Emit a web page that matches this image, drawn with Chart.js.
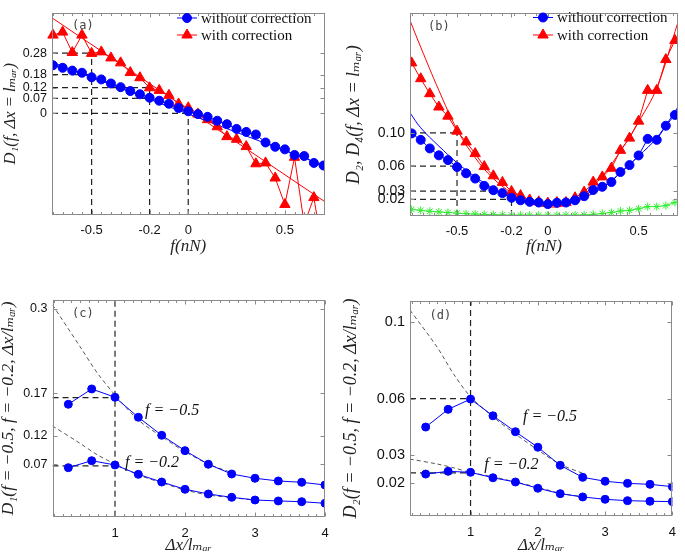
<!DOCTYPE html>
<html>
<head>
<meta charset="utf-8">
<script src="https://cdn.jsdelivr.net/npm/chart.js@4.4.1/dist/chart.umd.min.js"></script>
<style>
html,body{margin:0;padding:0;background:#ffffff;}
#wrap{position:relative;width:685px;height:557px;overflow:hidden;background:#fff;}
canvas{position:absolute;display:block;}
</style>
</head>
<body>
<div id="wrap">
<canvas id="ca" width="342" height="262" style="left:0px;top:0px;width:342px;height:262px"></canvas>
<canvas id="cb" width="343" height="262" style="left:342px;top:0px;width:343px;height:262px"></canvas>
<canvas id="cc" width="342" height="277" style="left:0px;top:280px;width:342px;height:277px"></canvas>
<canvas id="cd" width="343" height="277" style="left:342px;top:280px;width:343px;height:277px"></canvas>
</div>
<script>
// ---------------- DATA ----------------
// Panel (a): D1(f, dx = l_mar)
const fA = [-0.7,-0.65,-0.6,-0.55,-0.5,-0.45,-0.4,-0.35,-0.3,-0.25,-0.2,-0.15,-0.1,-0.05,0,0.05,0.1,0.15,0.2,0.25,0.3,0.35,0.4,0.45,0.5,0.55,0.6,0.65,0.7];
const blueA = [0.224,0.212,0.199,0.189,0.168,0.158,0.139,0.122,0.104,0.089,0.073,0.059,0.045,0.025,0.010,-0.003,-0.016,-0.034,-0.050,-0.072,-0.086,-0.098,-0.135,-0.155,-0.167,-0.193,-0.198,-0.230,-0.242];
const redA = [0.364,0.378,0.283,0.364,0.279,0.286,0.258,0.235,0.190,0.166,0.119,0.107,0.084,0.044,0.026,-0.003,-0.029,-0.062,-0.108,-0.120,-0.154,-0.234,-0.230,-0.300,-0.423,-0.204,-0.515,-0.391,-0.66];
const fitFA = [-0.705, 0.705];
const blueFitA = [0.238, -0.243];
const redFitA = [0.444, -0.409];
const yTicksA = [0, 0.07, 0.12, 0.18, 0.28];
const yLabelsA = ['0', '0.07', '0.12', '0.18', '0.28'];
const xTicksAB = [-0.5, -0.2, 0, 0.5];
const xLabelsAB = ['-0.5', '-0.2', '0', '0.5'];
const guideLevelsA = [0.28, 0.18, 0.12, 0.07, 0];
const guideEndsA = [-0.5, -0.5, -0.2, -0.2, 0];
const guideVertA = [-0.5, -0.2, 0];
const guideVertTopA = [0.28, 0.14, 0];

// Panel (b): D2, D4(f, dx = l_mar)
const fB = [-0.75,-0.7,-0.65,-0.6,-0.55,-0.5,-0.45,-0.4,-0.35,-0.3,-0.25,-0.2,-0.15,-0.1,-0.05,0,0.05,0.1,0.15,0.2,0.25,0.3,0.35,0.4,0.45,0.5,0.55,0.6,0.65,0.7];
const blueB = [0.0993,0.0915,0.0812,0.0729,0.0672,0.0589,0.0513,0.0450,0.0362,0.0310,0.0275,0.0219,0.0189,0.0170,0.0162,0.0143,0.0159,0.0162,0.0189,0.0238,0.0313,0.0351,0.0408,0.0529,0.0612,0.0728,0.0927,0.0915,0.1085,0.1215];
const redB = [0.184,0.165,0.147,0.131,0.120,0.102,0.089,0.0750,0.0594,0.0483,0.0404,0.0294,0.0245,0.0193,0.0170,0.0155,0.0162,0.0162,0.0219,0.0287,0.0408,0.0470,0.0574,0.0789,0.0936,0.114,0.151,0.151,0.188,0.211];
const greenB = [0.0079,0.0068,0.0057,0.0049,0.0042,0.0035,0.0028,0.0023,0.0019,0.0016,0.0013,0.0011,0.0011,0.0010,0.0010,0.0010,0.0010,0.0010,0.0011,0.0013,0.0020,0.0030,0.0042,0.0060,0.0068,0.0087,0.0113,0.0113,0.0125,0.0162];
const fitFB = [-0.759,-0.7,-0.6,-0.5,-0.4,-0.3,-0.2,-0.1,0,0.1,0.2,0.3,0.4,0.5,0.6,0.717];
const blueFitB = [0.124,0.106,0.084,0.064,0.047,0.033,0.022,0.015,0.013,0.015,0.022,0.034,0.052,0.072,0.094,0.131];
const redFitB = [0.235,0.203,0.151,0.104,0.070,0.045,0.028,0.016,0.011,0.013,0.026,0.048,0.078,0.113,0.154,0.233];
const yTicksB = [0.02, 0.03, 0.06, 0.10];
const yLabelsB = ['0.02', '0.03', '0.06', '0.10'];
const guideLevelsB = [0.10, 0.06, 0.03, 0.02];
const guideEndsB = [-0.5, -0.5, -0.2, -0.2];
const guideVertB = [-0.5, -0.2];
const guideVertTopB = [0.10, 0.03];

// Panel (c): D1 vs dx/l_mar
const dx = [0.333,0.667,1,1.333,1.667,2,2.333,2.667,3,3.333,3.667,4];
const c05 = [0.1624,0.1845,0.1725,0.1436,0.1176,0.0954,0.0757,0.0617,0.0555,0.0516,0.0497,0.0458];
const c02 = [0.0708,0.0809,0.0747,0.0612,0.0501,0.0396,0.0328,0.0280,0.0241,0.0227,0.0217,0.0194];
const fitDxC05 = [0.107,0.5,0.75,1,1.333,1.667,2,2.333,2.667];
const c05Fit = [0.306,0.2457,0.2072,0.1759,0.1397,0.1156,0.0939,0.0762,0.0636];
const fitDxC02 = [0.107,0.5,0.75,1,1.333,1.667,2,2.333,2.667,3];
const c02Fit = [0.131,0.106,0.0892,0.0762,0.0603,0.0491,0.0386,0.0314,0.0275,0.0241];
const yTicksC = [0.0757, 0.117, 0.178, 0.3];
const yLabelsC = ['0.07', '0.12', '0.17', '0.3'];
const guideLevelsC = [0.172, 0.0733];

// Panel (d): D2 vs dx/l_mar
const d05 = [0.0458,0.0549,0.0602,0.0516,0.0434,0.0354,0.0261,0.0199,0.0179,0.0168,0.0163,0.0151];
const d02 = [0.0216,0.0230,0.0225,0.0197,0.0175,0.0143,0.0115,0.0098,0.0086,0.0079,0.0076,0.0074];
const fitDxD = [0.1,0.5,0.75,1,1.333,1.667,2,2.333,2.667];
const d05Fit = [0.106,0.0871,0.073,0.0614,0.0511,0.0422,0.034,0.0266,0.022];
const d02Fit = [0.0293,0.0268,0.0248,0.0224,0.0202,0.0175,0.0148,0.0117,0.0099];
const yTicksD = [0.0172, 0.0315, 0.0604, 0.1];
const yLabelsD = ['0.02', '0.03', '0.06', '0.1'];
const guideLevelsD = [0.0604, 0.0222];

const xTicksCD = [1, 2, 3, 4];
const xLabelsCD = ['1', '2', '3', '4'];

// ---------------- STYLE / HELPERS ----------------
const TF = "'Liberation Sans', Arial, sans-serif";
const SF = "'Liberation Serif', 'DejaVu Serif', serif";
const BLUE = '#0000ff', RED = '#ff0000', GREEN = '#33ee33';

function pts(xs, ys) { return xs.map((x, i) => ({ x: x, y: ys[i] })); }

function markerSet(xs, ys, color, style, r, clip) {
  const d = { data: pts(xs, ys), showLine: true, borderColor: color, backgroundColor: color,
    borderWidth: 1, pointStyle: style, pointRadius: r, pointBorderWidth: 1,
    pointBackgroundColor: color, pointBorderColor: color, tension: 0 };
  if (clip !== undefined) d.clip = clip;
  return d;
}
function lineSet(xs, ys, color, w, dash, tension, clip) {
  return { data: pts(xs, ys), showLine: true, borderColor: color, borderWidth: w,
    borderDash: dash || [], pointRadius: 0, tension: tension || 0, clip: clip === undefined ? 0 : clip };
}
function guides(levels, ends, x0, verts, vtops, y0) {
  const out = [];
  levels.forEach((v, i) => out.push(lineSet([x0, ends[i]], [v, v], '#222', 1.2, [6, 4])));
  (verts || []).forEach((v, i) => out.push(lineSet([v, v], [y0, vtops[i]], '#222', 1.2, [6, 4])));
  return out;
}

function xScale(min, max, vals, labels, h, tp, title, pb) {
  return { type: 'linear', position: 'bottom', min: min, max: max,
    afterBuildTicks: s => { s.ticks = vals.map(v => ({ value: v })); },
    afterFit: s => { s.height = h; },
    grid: { display: false, drawTicks: false }, border: { display: false },
    ticks: { autoSkip: false, maxRotation: 0, padding: tp, color: '#111',
      font: { family: TF, size: 13 }, callback: (v, i) => labels[i] },
    title: { display: true, text: title, color: '#222',
      font: { family: SF, size: 17, style: 'italic' }, padding: { top: 0, bottom: pb } } };
}
function yScale(min, max, vals, labels, w, title, tpad, tsize, fsize) {
  return { type: 'linear', position: 'left', min: min, max: max,
    afterBuildTicks: s => { s.ticks = vals.map(v => ({ value: v })); },
    afterFit: s => { s.width = w; },
    grid: { display: false, drawTicks: false }, border: { display: false },
    ticks: { autoSkip: false, padding: 5, color: '#111',
      font: { family: TF, size: fsize }, callback: (v, i) => labels[i] },
    title: { display: true, text: title, color: '#222',
      font: { family: SF, size: tsize, style: 'italic' }, padding: { top: tpad, bottom: 0 } } };
}

function framePlugin(fr) {
  return { id: 'frame', afterDatasetsDraw(chart) {
    const { ctx, chartArea: a, scales } = chart;
    const x = scales.x, y = scales.y;
    ctx.save();
    ctx.strokeStyle = '#8a8a8a'; ctx.lineWidth = 1;
    ctx.beginPath();
    const l = Math.round(a.left) + 0.5, r = Math.round(a.right) - 0.5, t = Math.round(a.top) + 0.5, b = Math.round(a.bottom) - 0.5;
    fr.xMajor.forEach(v => { const p = Math.round(x.getPixelForValue(v)) + 0.5; ctx.moveTo(p, b); ctx.lineTo(p, b - 4); ctx.moveTo(p, t); ctx.lineTo(p, t + 4); });
    fr.xMinor.forEach(v => { const p = Math.round(x.getPixelForValue(v)) + 0.5; if (p < l + 1 || p > r - 1) return; ctx.moveTo(p, b); ctx.lineTo(p, b - 2.5); ctx.moveTo(p, t); ctx.lineTo(p, t + 2.5); });
    fr.yMajor.forEach(v => { const p = Math.round(y.getPixelForValue(v)) + 0.5; ctx.moveTo(l, p); ctx.lineTo(l + 4, p); ctx.moveTo(r, p); ctx.lineTo(r - 4, p); });
    ctx.stroke();
    ctx.strokeRect(l, t, r - l, b - t);
    ctx.restore();
  } };
}
function legendPlugin(lg) {
  return { id: 'ilegend', afterDraw(chart) {
    if (!lg) return;
    const ctx = chart.ctx;
    ctx.save();
    lg.items.forEach((it, i) => {
      const yy = lg.rows[i];
      ctx.strokeStyle = it.color; ctx.lineWidth = 1;
      ctx.beginPath(); ctx.moveTo(lg.x, yy); ctx.lineTo(lg.x + 20, yy); ctx.stroke();
      ctx.fillStyle = it.color;
      Chart.helpers.drawPoint(ctx, { pointStyle: it.style, radius: it.r, rotation: 0, borderWidth: 1 }, lg.x + 10, yy);
      ctx.fillStyle = '#111';
      ctx.font = "15px " + SF;
      ctx.textBaseline = 'middle'; ctx.textAlign = 'left';
      ctx.fillText(it.label, lg.x + 24, yy + 1);
    });
    ctx.restore();
  } };
}
function notesPlugin(notes) {
  return { id: 'notes', afterDraw(chart) {
    const { ctx, chartArea: a, scales } = chart;
    ctx.save();
    notes.forEach(n => {
      let px, py;
      if (n.data) { px = scales.x.getPixelForValue(n.x); py = scales.y.getPixelForValue(n.y); }
      else { px = a.left + n.dx; py = a.top + n.dy; }
      ctx.font = n.font; ctx.fillStyle = n.color || '#111';
      ctx.textBaseline = 'middle'; ctx.textAlign = 'left';
      ctx.fillText(n.text, px, py);
    });
    ctx.restore();
  } };
}

function build(id, o) {
  return new Chart(document.getElementById(id), {
    type: 'scatter',
    data: { datasets: o.datasets },
    options: {
      responsive: false, animation: false, devicePixelRatio: 1, events: [],
      layout: { padding: o.pad },
      plugins: { legend: { display: false }, tooltip: { enabled: false } },
      scales: { x: o.x, y: o.y }
    },
    plugins: [framePlugin(o.frame), legendPlugin(o.legend), notesPlugin(o.notes || [])]
  });
}
function steps(a, b, s) { const r = []; for (let v = a; v <= b + 1e-9; v += s) r.push(+v.toFixed(4)); return r; }

const subMar = 'l\u2098\u2090\u1D63';
const legendItems = [
  { label: 'without correction', color: BLUE, style: 'circle', r: 4.5 },
  { label: 'with correction', color: RED, style: 'triangle', r: 6 }
];

// ---------------- PANEL (a) ----------------
build('ca', {
  pad: { left: 0, right: 17.5, top: 1, bottom: 0 },
  x: xScale(-0.705, 0.705, xTicksAB, xLabelsAB, 47, 8, 'f(nN)', 5),
  y: yScale(-0.472, 0.469, yTicksA, yLabelsA, 52, 'D\u2081(f, \u0394x = ' + subMar + ')', 1, 16.5, 12.5),
  datasets: [
    markerSet(fA, blueA, BLUE, 'circle', 4.5),
    markerSet(fA, redA, RED, 'triangle', 6, { left: 10, right: 10, top: 10, bottom: 0 }),
    lineSet(fitFA, blueFitA, BLUE, 1),
    lineSet(fitFA, redFitA, RED, 1),
    ...guides(guideLevelsA, guideEndsA, -0.705, guideVertA, guideVertTopA, -0.472)
  ],
  frame: { xMajor: xTicksAB, xMinor: steps(-0.7, 0.7, 0.05), yMajor: yTicksA },
  legend: { x: 177, rows: [18, 35], items: legendItems },
  notes: [{ dx: 20, dy: 13, text: '(a)', font: "12px 'DejaVu Sans Mono', monospace", color: '#444' }]
});

// ---------------- PANEL (b) ----------------
build('cb', {
  pad: { left: 0, right: 3.3, top: 1, bottom: 0 },
  x: xScale(-0.759, 0.717, xTicksAB, xLabelsAB, 46, 8, 'f(nN)', 5),
  y: yScale(0, 0.2435, yTicksB, yLabelsB, 68, 'D\u2082, D\u2084(f, \u0394x = ' + subMar + ')', 1, 18, 14),
  datasets: [
    markerSet(fB, blueB, BLUE, 'circle', 4.5),
    markerSet(fB, redB, RED, 'triangle', 6),
    markerSet(fB, greenB, GREEN, 'star', 4),
    lineSet(fitFB, blueFitB, BLUE, 1, [], 0.4),
    lineSet(fitFB, redFitB, RED, 1, [], 0.4),
    ...guides(guideLevelsB, guideEndsB, -0.759, guideVertB, guideVertTopB, 0)
  ],
  frame: { xMajor: xTicksAB, xMinor: steps(-0.75, 0.7, 0.0625), yMajor: yTicksB },
  legend: { x: 191, rows: [17.5, 35], items: legendItems },
  notes: [{ dx: 18, dy: 13, text: '(b)', font: "12px 'DejaVu Sans Mono', monospace", color: '#444' }]
});

// ---------------- PANEL (c) ----------------
build('cc', {
  pad: { left: 0, right: 17, top: 20, bottom: 0 },
  x: xScale(0.107, 4, xTicksCD, xLabelsCD, 40.3, 9, '\u0394x/' + subMar, 1),
  y: yScale(0, 0.313, yTicksC, yLabelsC, 52.5, 'D\u2081(f = \u22120.5, f = \u22120.2, \u0394x/' + subMar + ')', -2, 17.5, 12.5),
  datasets: [
    markerSet(dx, c05, BLUE, 'circle', 4),
    markerSet(dx, c02, BLUE, 'circle', 4),
    lineSet(fitDxC05, c05Fit, '#444', 0.9, [4, 3], 0.3),
    lineSet(fitDxC02, c02Fit, '#444', 0.9, [4, 3], 0.3),
    ...guides(guideLevelsC, [1, 1], 0.107, [1], [0.313], 0)
  ],
  frame: { xMajor: xTicksCD, xMinor: steps(0.125, 4, 0.125), yMajor: yTicksC },
  notes: [
    { dx: 19.5, dy: 14, text: '(c)', font: "12px 'DejaVu Sans Mono', monospace", color: '#444' },
    { data: true, x: 1.43, y: 0.153, text: 'f = \u22120.5', font: 'italic 16px ' + SF },
    { data: true, x: 1.143, y: 0.0776, text: 'f = \u22120.2', font: 'italic 16px ' + SF }
  ]
});

// ---------------- PANEL (d) ----------------
build('cd', {
  pad: { left: 0, right: 3.3, top: 21, bottom: 0 },
  x: xScale(0.1, 4, xTicksCD, xLabelsCD, 41, 9, '\u0394x/' + subMar, 1),
  y: yScale(0, 0.1107, yTicksD, yLabelsD, 68, 'D\u2082(f = \u22120.5, f = \u22120.2, \u0394x/' + subMar + ')', -2, 18, 14.5),
  datasets: [
    markerSet(dx, d05, BLUE, 'circle', 4),
    markerSet(dx, d02, BLUE, 'circle', 4),
    lineSet(fitDxD, d05Fit, '#444', 0.9, [4, 3], 0.3),
    lineSet(fitDxD, d02Fit, '#444', 0.9, [4, 3], 0.3),
    ...guides(guideLevelsD, [1, 1], 0.1, [1], [0.1107], 0)
  ],
  frame: { xMajor: xTicksCD, xMinor: steps(0.125, 4, 0.125), yMajor: yTicksD },
  notes: [
    { dx: 19.5, dy: 15, text: '(d)', font: "12px 'DejaVu Sans Mono', monospace", color: '#444' },
    { data: true, x: 1.78, y: 0.051, text: 'f = \u22120.5', font: 'italic 16px ' + SF },
    { data: true, x: 1.205, y: 0.0262, text: 'f = \u22120.2', font: 'italic 16px ' + SF }
  ]
});
</script>
</body>
</html>
